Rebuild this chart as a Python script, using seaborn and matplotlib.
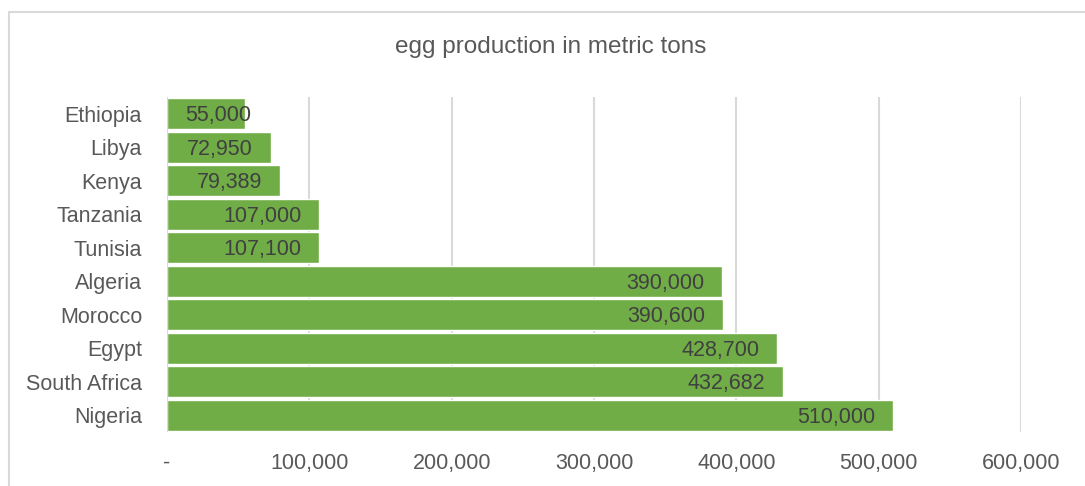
import numpy as np
import pandas as pd
import matplotlib
matplotlib.use("Agg")
import matplotlib.pyplot as plt
import seaborn as sns
from matplotlib.lines import Line2D

# data
countries = ["Ethiopia", "Libya", "Kenya", "Tanzania", "Tunisia",
             "Algeria", "Morocco", "Egypt", "South Africa", "Nigeria"]
production = [55000, 72950, 79389, 107000, 107100,
              390000, 390600, 428700, 432682, 510000]
x_ticks = [0, 100000, 200000, 300000, 400000, 500000, 600000]
x_tick_labels = ["-", "100,000", "200,000", "300,000", "400,000", "500,000", "600,000"]

df = pd.DataFrame({"country": countries, "production": production})

sns.set_theme(style="white")
plt.rcParams["font.family"] = ["Liberation Sans", "DejaVu Sans"]

W, H = 1085, 486
fig = plt.figure(figsize=(W / 100, H / 100), dpi=100)
ax = fig.add_axes([167 / W, 1 - 432 / H, (1021 - 167) / W, (432 - 97) / H])

sns.barplot(data=df, y="country", x="production", order=countries,
            color="#70AD47", saturation=1, width=0.94, ax=ax, zorder=3)

ax.set_xlim(0, 600000)
ax.set_xticks(x_ticks)
ax.set_xticklabels(x_tick_labels)
ax.xaxis.grid(True, color="#D9D9D9", linewidth=1.5, zorder=0)
ax.set_axisbelow(True)
ax.set_xlabel("")
ax.set_ylabel("")
for s in ax.spines.values():
    s.set_visible(False)
ax.axvline(0, color="#D9D9D9", linewidth=1.5, zorder=4)
ax.tick_params(axis="both", length=0, labelsize=15.5, colors="#595959")
ax.tick_params(axis="x", pad=15)
ax.tick_params(axis="y", pad=18)

# labels sit just inside the bar end, like Excel "inside end"
for i, v in enumerate(production):
    label = f"{v:,}"
    if v < 60000:
        ax.annotate(label, (0, i), xytext=(18, -2), textcoords="offset pixels",
                    ha="left", va="center", fontsize=15.5, color="#404040", zorder=5)
    else:
        ax.annotate(label, (v, i), xytext=(-18, -2), textcoords="offset pixels",
                    ha="right", va="center", fontsize=15.5, color="#404040", zorder=5)

fig.text(551 / W, 1 - 47 / H, "egg production in metric tons",
         ha="center", va="center", fontsize=17.5, color="#595959")

# chart frame (only top and left edges show in the crop)
fig.add_artist(Line2D([9 / W, 1.0], [1 - 12 / H, 1 - 12 / H], transform=fig.transFigure,
                      color="#D9D9D9", linewidth=1.5))
fig.add_artist(Line2D([9 / W, 9 / W], [0, 1 - 12 / H], transform=fig.transFigure,
                      color="#D9D9D9", linewidth=1.5))

fig.savefig("out.png", dpi=100)
